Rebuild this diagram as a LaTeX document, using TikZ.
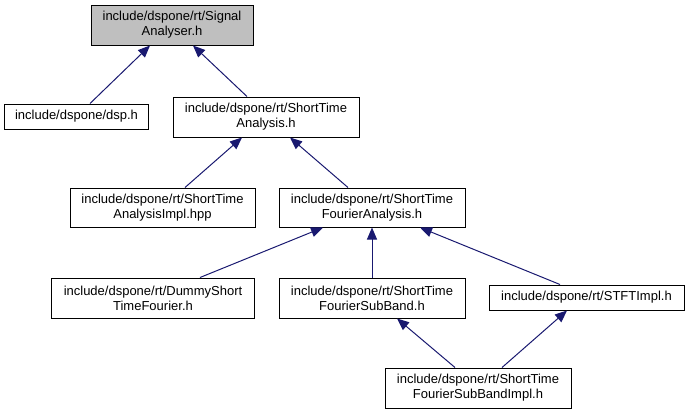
\documentclass[tikz,border=0pt]{standalone}
\usepackage{fontspec}
\setmainfont{Liberation Sans}
\usetikzlibrary{arrows.meta}
\definecolor{edgeblue}{RGB}{25,25,112}
\definecolor{boxgray}{RGB}{191,191,191}
\begin{document}
\begin{tikzpicture}[x=1bp,y=-1bp,
  filebox/.style={draw=black, line width=1bp, fill=white, inner sep=0pt, align=center,
    font=\fontsize{13bp}{15bp}\selectfont},
  dep/.style={draw=edgeblue, line width=1bp, -{Triangle[length=12bp,width=10bp]}}]
\useasboundingbox (0,0) rectangle (689,416);
\node[filebox, fill=boxgray, minimum width=162bp, minimum height=40bp] (sig) at (172,25) {include/dspone/rt/Signal\\Analyser.h};
\node[filebox, minimum width=143bp, minimum height=25bp] (dsp) at (76.5,116.5) {include/dspone/dsp.h};
\node[filebox, minimum width=186bp, minimum height=40bp] (sta) at (266,117) {include/dspone/rt/ShortTime\\Analysis.h};
\node[filebox, minimum width=185bp, minimum height=39bp] (stai) at (162.5,207.5) {include/dspone/rt/ShortTime\\AnalysisImpl.hpp};
\node[filebox, minimum width=186bp, minimum height=39bp] (fa) at (372,207.5) {include/dspone/rt/ShortTime\\FourierAnalysis.h};
\node[filebox, minimum width=202bp, minimum height=40bp] (dummy) at (153,298) {include/dspone/rt/DummyShort\\TimeFourier.h};
\node[filebox, minimum width=186bp, minimum height=40bp] (sb) at (372,298) {include/dspone/rt/ShortTime\\FourierSubBand.h};
\node[filebox, minimum width=195bp, minimum height=25bp] (stft) at (586.5,297.5) {include/dspone/rt/STFTImpl.h};
\node[filebox, minimum width=186bp, minimum height=40bp] (sbi) at (478,388) {include/dspone/rt/ShortTime\\FourierSubBandImpl.h};
\draw[dep] ([xshift=13.5bp]dsp.north) -- ([xshift=-22bp]sig.south);
\draw[dep] ([xshift=-19bp]sta.north) -- ([xshift=21bp]sig.south);
\draw[dep] ([xshift=22.5bp]stai.north) -- ([xshift=-24bp]sta.south);
\draw[dep] ([xshift=-24bp]fa.north) -- ([xshift=24bp]sta.south);
\draw[dep] ([xshift=47bp]dummy.north) -- ([xshift=-49bp]fa.south);
\draw[dep] (sb.north) -- (fa.south);
\draw[dep] ([xshift=-26.5bp]stft.north) -- ([xshift=48bp]fa.south);
\draw[dep] ([xshift=-23bp]sbi.north) -- ([xshift=25bp]sb.south);
\draw[dep] ([xshift=24bp]sbi.north) -- ([xshift=-19.5bp]stft.south);
\end{tikzpicture}
\end{document}
